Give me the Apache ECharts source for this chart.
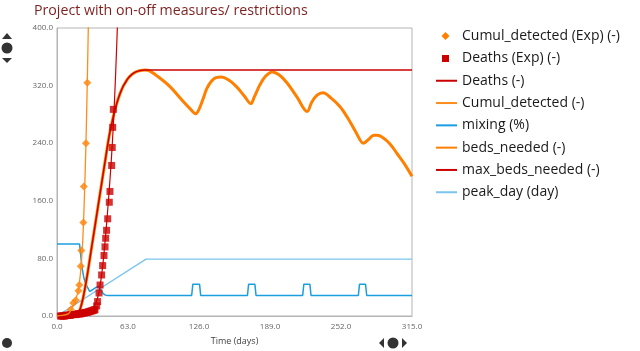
<!DOCTYPE html>
<html><head><meta charset="utf-8">
<script src="https://cdn.jsdelivr.net/npm/echarts@6/dist/echarts.min.js"></script>
<style>html,body{margin:0;padding:0;background:#fff}#c{width:640px;height:351px}</style>
</head><body><div id="c"></div>
<script>
// ---- data ----
const titleText = 'Project with on-off measures/ restrictions';
const xTitle = 'Time (days)';
const seriesNames = ['Cumul_detected (Exp) (-)','Deaths (Exp) (-)','Deaths (-)','Cumul_detected (-)','mixing (%)','beds_needed (-)','max_beds_needed (-)','peak_day (day)'];

const cumulExpDays = [10, 12.2, 14.5, 16.7, 19.0, 19.8, 21.1, 21.6, 23.4, 23.8, 25.7, 26.9];
const cumulExpVals = [3, 9, 18, 22, 35, 43, 69, 91, 130, 180, 240, 324];

const deathsExpDays = [3,4,5,6,7,8,9,10,11,12,13,14,15,16,17,18,19,20,21,22,23,24,25,26,27,28,29,30,31,32,33,33.7,35.2,36,37.3,38.2,39.6,40.5,41.7,42.6,43.2,44,45,46.4,47,48.5,49,49.4,50];
const deathsExpVals = [0,0,0,0,0,1,1,1,1,1,2,2,2,2,2,3,3,3,3,4,4,4,5,5,5,6,6,7,7,8,8,9,14,20,32,43,57,70,84,96,108,119,135,158,173,209,234,262,287];

const deathsDays = [0,10,20,25,30,33,36,38,40,42,44,46,48,50,52,54];
const deathsVals = [0,0.5,1.5,3,7,13,25,40,62,92,128,168,212,265,335,420];

const cumulDays = [0,5,10,12,14,16,18,19,20,21,22,23,24,25,26,27,28];
const cumulVals = [0,1,3,7,13,20,30,37,48,62,82,110,150,200,260,335,420];

const mixingDays = [0,20,21,22,23,24,25,27,29,31,33,35,37,39,41,43,45,119.5,120.5,126.5,127.5,169,170,175.6,176.6,218,219,224.4,225.4,267.4,268.4,273.8,274.8,315];
const mixingVals = [100,100,85,70,60,52,47,40,34,36,38,40,41,36,31,29,28.5,28.5,44,44,28.5,28.5,44,44,28.5,28.5,44,44,28.5,28.5,44,44,28.5,28.5];

const bedsDays = [0,15,17,19,21,23,25,27,29,31,33,35,37,39,41,43,45,47,49,51,53,55,57,59,61,63,66,70,74,78,82.5,90,100,112,118,123,126,129.5,133,137,141,146,152,159,166,172,175,180,185,191,197,204,213,222,226,231,236,243,251,258,265,272,277,281,284,289,295.5,302,308,315];
const bedsVals = [0,0,1,4,12,24,40,58,78,98,118,138,158,178,198,218,238,256,270,284,295,305,313,320,325,330,335,339,341,341.5,340,332,319,298,288,281,287,301,316,326,331,332,328,319,306,295,304,321,333,339,335,324,304,284,297,307,310,303,291,275,256,240,246,251,251,248,239,225,212,194];

const maxBedsDays = [0,15,17,19,21,23,25,27,29,31,33,35,37,39,41,43,45,47,49,51,53,55,57,59,61,63,66,70,74,78,315];
const maxBedsVals = [0,0,1,4,12,24,40,58,78,98,118,138,158,178,198,218,238,256,270,284,295,305,313,320,325,330,335,339,341,341.5,341.5];

const peakDays = [0,79,315];
const peakVals = [0,79,79];

const yTicks = {min:0, max:400, interval:80};
const xTicks = {min:0, max:315, interval:63};

// ---- chart ----
const pairs = (xs, ys) => xs.map((x,i)=>[x, ys[i]]);
const FONT = '"Open Sans", "Noto Sans", sans-serif';
const chart = echarts.init(document.getElementById('c'), null, {renderer:'canvas'});

const lineS = (name, xs, ys, color, width, extra) => Object.assign({
  name, type:'line', data: pairs(xs, ys), symbol:'none', showSymbol:false,
  lineStyle:{color, width}, itemStyle:{color}, animation:false
}, extra||{});

const hidden = {color:'rgba(0,0,0,0)', borderColor:'rgba(0,0,0,0)', borderWidth:0, opacity:0};
const legendData = seriesNames.map(n => ({name:n, itemStyle:hidden}));
legendData[0].lineStyle = {opacity:0};
legendData[1].lineStyle = {opacity:0};

chart.setOption({
  animation:false,
  backgroundColor:'#fff',
  title:{text:titleText, left:34, top:4, padding:0, textStyle:{color:'#7e1f1f', fontFamily:FONT, fontSize:14.2, fontWeight:'normal'}},
  grid:{left:57, right:228, top:28, bottom:33, show:true, borderColor:'#b4b4b4', borderWidth:1},
  legend:{
    orient:'vertical', left:435, top:25, padding:0, itemWidth:21, itemHeight:8, itemGap:0,
    textStyle:{fontFamily:FONT, fontSize:14, color:'#1a1a1a', lineHeight:22.3},
    data: legendData
  },
  xAxis:{type:'value', min:xTicks.min, max:xTicks.max, interval:xTicks.interval,
    name:xTitle, nameLocation:'middle', nameGap:21,
    nameTextStyle:{fontFamily:FONT, fontSize:9, color:'#444'},
    axisLine:{show:true, lineStyle:{color:'#b4b4b4'}}, axisTick:{show:false}, splitLine:{show:false},
    axisLabel:{fontFamily:FONT, fontSize:8, color:'#666', margin:7, formatter:v=>v.toFixed(1)}},
  yAxis:{type:'value', min:yTicks.min, max:yTicks.max, interval:yTicks.interval,
    axisLine:{show:true, lineStyle:{color:'#b4b4b4'}}, axisTick:{show:false}, splitLine:{show:false},
    axisLabel:{fontFamily:FONT, fontSize:8, color:'#666', margin:4, formatter:v=>v.toFixed(1)}},
  series:[
    {name:seriesNames[0], type:'scatter', data:pairs(cumulExpDays, cumulExpVals), symbol:'diamond', symbolSize:8, itemStyle:{color:'#ff8000'}, z:3},
    {name:seriesNames[1], type:'scatter', data:pairs(deathsExpDays, deathsExpVals), symbol:'rect', symbolSize:7, itemStyle:{color:'#cc0000'}, z:3},
    lineS(seriesNames[2], deathsDays, deathsVals, '#cc0000', 1.2, {smooth:0.3, z:4}),
    lineS(seriesNames[3], cumulDays, cumulVals, '#ff8c1a', 1.3, {smooth:0.3, z:4}),
    lineS(seriesNames[4], mixingDays, mixingVals, '#1a9ee0', 1.5, {z:2}),
    lineS(seriesNames[5], bedsDays, bedsVals, '#ff8000', 3, {smooth:0.35, z:2}),
    lineS(seriesNames[6], maxBedsDays, maxBedsVals, '#cc0000', 1.5, {smooth:0.35, z:3}),
    lineS(seriesNames[7], peakDays, peakVals, '#7cc4ee', 1.3, {z:1})
  ],
  graphic:[
    {type:'polygon', shape:{points:[[2,39],[12,39],[7,33]]}, style:{fill:'#333'}},
    {type:'circle', shape:{cx:7, cy:48, r:5.5}, style:{fill:'#333'}},
    {type:'polygon', shape:{points:[[2,58],[12,58],[7,63]]}, style:{fill:'#333'}},
    {type:'circle', shape:{cx:7, cy:343, r:5}, style:{fill:'#333'}},
    {type:'polygon', shape:{points:[[384,338],[384,348],[379,343]]}, style:{fill:'#333'}},
    {type:'circle', shape:{cx:393, cy:343, r:5.5}, style:{fill:'#333'}},
    {type:'polygon', shape:{points:[[402,338],[402,348],[407,343]]}, style:{fill:'#333'}},
    // legend markers for the two point series
    {type:'polygon', shape:{points:[[445.5,32],[449.5,36],[445.5,40],[441.5,36]]}, style:{fill:'#ff8000'}},
    {type:'rect', shape:{x:442, y:55, width:7, height:7}, style:{fill:'#cc0000'}}
  ]
});
</script></body></html>
